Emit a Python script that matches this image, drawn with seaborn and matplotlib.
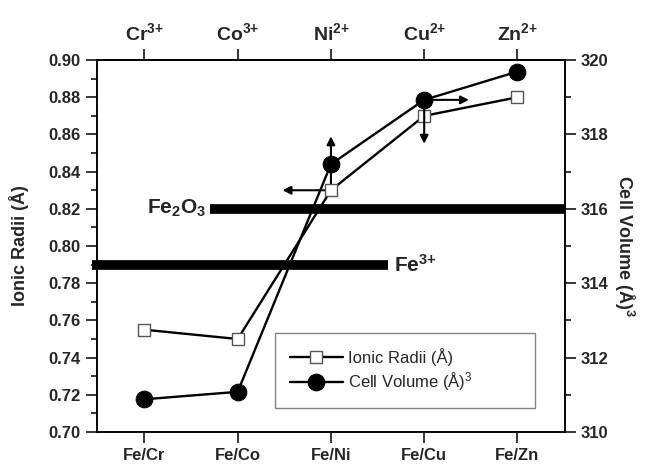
import numpy as np
import pandas as pd
import matplotlib
matplotlib.use('Agg')
import matplotlib.pyplot as plt
import seaborn as sns
from matplotlib.ticker import MultipleLocator, FormatStrFormatter

# ---- data ----
categories = ['Fe/Cr', 'Fe/Co', 'Fe/Ni', 'Fe/Cu', 'Fe/Zn']
ion_labels = [r'$\mathbf{Cr^{3{+}}}$', r'$\mathbf{Co^{3{+}}}$', r'$\mathbf{Ni^{2{+}}}$',
              r'$\mathbf{Cu^{2{+}}}$', r'$\mathbf{Zn^{2{+}}}$']
ionic_radii = [0.755, 0.750, 0.830, 0.870, 0.880]
cell_volume = [310.88, 311.08, 317.2, 318.93, 319.69]
fe3_radius = 0.79
fe2o3_volume = 316.0

sns.set_theme(style='ticks')
plt.rcParams['font.family'] = ['Liberation Sans', 'DejaVu Sans']
plt.rcParams.update({
    'mathtext.fontset': 'custom',
    'mathtext.rm': 'Liberation Sans',
    'mathtext.bf': 'Liberation Sans:bold',
    'mathtext.it': 'Liberation Sans:italic',
    'mathtext.sf': 'Liberation Sans',
})

fig = plt.figure(figsize=(6.46, 4.69), dpi=100)
ax = fig.add_axes([0.150, 0.0789, 0.7246, 0.793])
ax2 = ax.twinx()

df = pd.DataFrame({'pos': np.arange(len(categories)), 'cat': categories,
                   'radii': ionic_radii, 'vol': cell_volume})

sns.lineplot(data=df, x='pos', y='radii', ax=ax, color='black', lw=1.7,
             marker='s', markersize=8, markerfacecolor='white',
             markeredgecolor='#555555', markeredgewidth=1.0, legend=False, zorder=3)
sns.lineplot(data=df, x='pos', y='vol', ax=ax2, color='black', lw=1.7,
             marker='o', markersize=12, markerfacecolor='black',
             markeredgecolor='black', legend=False, zorder=3)

ax.set_xlim(-0.51, 4.51)
ax.set_ylim(0.70, 0.90)
ax2.set_ylim(310, 320)

# reference bars
ax.plot([-0.56, 2.61], [fe3_radius, fe3_radius], color='black', lw=7,
        solid_capstyle='butt', clip_on=False, zorder=2)
ax2.plot([0.70, 4.52], [fe2o3_volume, fe2o3_volume], color='black', lw=7,
         solid_capstyle='butt', clip_on=False, zorder=2)
ax.text(2.68, fe3_radius, r'$\mathbf{Fe^{3{+}}}$', fontsize=15, va='center', ha='left')
ax2.text(0.66, fe2o3_volume, r'$\mathbf{Fe_2O_3}$', fontsize=15, va='center', ha='right')

# arrows indicating axes
ap = dict(arrowstyle='-|>', color='black', lw=1.5, mutation_scale=12, shrinkA=0, shrinkB=0)
ax2.annotate('', xy=(2, 317.95), xytext=(2, 317.2), arrowprops=ap, zorder=2.5)
ax.annotate('', xy=(2, 0.846), xytext=(2, ionic_radii[2]), arrowprops=dict(arrowstyle='-', color='black', lw=1.5), zorder=1.5)
ax.annotate('', xy=(1.48, ionic_radii[2]), xytext=(2, ionic_radii[2]), arrowprops=ap, zorder=1.5)
ax2.annotate('', xy=(3.48, cell_volume[3]), xytext=(3, cell_volume[3]), arrowprops=ap, zorder=1.5)
ax2.annotate('', xy=(3, 317.75), xytext=(3, cell_volume[3]), arrowprops=ap, zorder=1.5)

# ticks
ax.set_xticks(range(len(categories)))
ax.set_xticklabels(categories, fontsize=12, fontweight='bold')
ax.yaxis.set_major_locator(MultipleLocator(0.02))
ax.yaxis.set_minor_locator(MultipleLocator(0.01))
ax.yaxis.set_major_formatter(FormatStrFormatter('%.2f'))
ax2.yaxis.set_major_locator(MultipleLocator(2))
ax2.yaxis.set_minor_locator(MultipleLocator(1))
for a in (ax, ax2):
    a.tick_params(axis='both', which='major', direction='out', length=8, width=1.1,
                  labelsize=12, color='black')
    a.tick_params(axis='y', which='minor', direction='out', length=4, width=1.1, color='black')
    for lab in a.get_yticklabels():
        lab.set_fontweight('bold')
    for s in a.spines.values():
        s.set_linewidth(1.1)
        s.set_color('black')
ax.set_xlabel('')
ax.set_ylabel('Ionic Radii (Å)', fontsize=13, fontweight='bold', labelpad=14)
ax2.set_ylabel('Cell Volume (Å)$^\\mathbf{3}$', fontsize=13, fontweight='bold',
               rotation=270, labelpad=20)

secax = ax.secondary_xaxis('top')
secax.set_xticks(range(len(categories)))
secax.set_xticklabels(ion_labels, fontsize=14)
secax.tick_params(direction='out', length=8, width=1.1, color='black')
secax.spines['top'].set_linewidth(1.1)

handles = [ax.lines[0], ax2.lines[0]]
leg = ax2.legend(handles, ['Ionic Radii (Å)', 'Cell Volume (Å)$^3$'],
                 loc='lower left', bbox_to_anchor=(0.38, 0.065, 0.555, 0.19),
                 mode='expand', fontsize=12, frameon=True, fancybox=False,
                 handlelength=3.2, borderaxespad=0, borderpad=0.9,
                 labelspacing=0.25, handletextpad=0.3)
leg.get_frame().set_edgecolor('#666666')
leg.get_frame().set_linewidth(1.0)

fig.savefig('out.png', dpi=100)
